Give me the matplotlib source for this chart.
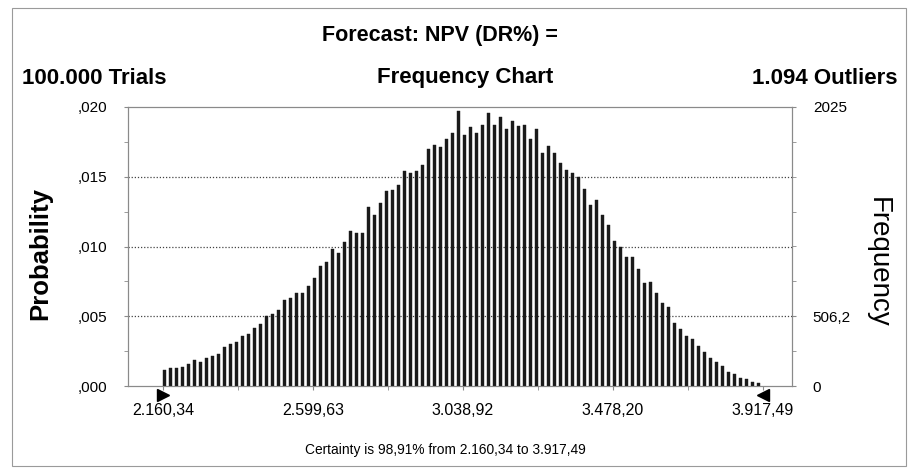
import matplotlib
matplotlib.use("Agg")
import matplotlib.pyplot as plt
import matplotlib.transforms as mtransforms
from matplotlib.patches import Rectangle
import numpy as np

# ---- data ----
range_min = 2160.34
range_max = 3917.49
n_trials = 100000
axis_max_freq = 2025
frequencies = [
    116, 133, 128, 140, 157, 188, 172, 201, 217, 230,
    285, 302, 317, 362, 375, 418, 449, 510, 522, 551,
    623, 640, 672, 672, 725, 781, 872, 901, 991, 962,
    1046, 1124, 1112, 1112, 1300, 1240, 1329, 1416, 1426, 1457,
    1561, 1547, 1559, 1607, 1723, 1752, 1735, 1795, 1839, 1996,
    1822, 1880, 1839, 1897, 1982, 1897, 1953, 1863, 1924, 1885,
    1897, 1795, 1868, 1694, 1740, 1694, 1621, 1566, 1549, 1518,
    1433, 1317, 1348, 1240, 1167, 1054, 1010, 938, 938, 846,
    744, 756, 672, 599, 570, 454, 411, 362, 338, 290,
    249, 205, 172, 145, 104, 87, 60, 51, 31, 19,
]
x_tick_values = [2160.34, 2599.63, 3038.92, 3478.20, 3917.49]
x_tick_labels = ["2.160,34", "2.599,63", "3.038,92", "3.478,20", "3.917,49"]
left_tick_labels = [",000", ",005", ",010", ",015", ",020"]
right_tick_values = [0, 506.25, 2025]
right_tick_labels = ["0", "506,2", "2025"]
title = "Forecast: NPV (DR%) ="
left_header = "100.000 Trials"
center_header = "Frequency Chart"
right_header = "1.094 Outliers"
certainty_text = "Certainty is 98,91% from 2.160,34 to 3.917,49"

# ---- figure ----
sans = ["Liberation Sans", "DejaVu Sans"]

fig = plt.figure(figsize=(9.09, 4.68), dpi=100)
fig.patch.set_facecolor("white")

# outer frame
fig.add_artist(Rectangle((12 / 909, 1 - 466 / 468), (906 - 12) / 909, (466 - 8) / 468,
                         transform=fig.transFigure, fill=False, edgecolor="#9a9a9a", lw=0.8))

ax = fig.add_axes([128 / 909, 1 - 386 / 468, (792 - 128) / 909, (386 - 107) / 468])

n_bins = len(frequencies)
bin_w = (range_max - range_min) / n_bins
centers = range_min + (np.arange(n_bins) + 0.25) * bin_w
ax.bar(centers, frequencies, width=bin_w * 0.52, color="#1a1a1a", edgecolor="#1a1a1a",
       linewidth=0.3, zorder=3)

ax.set_xlim(2057.8, 4002.4)
ax.set_ylim(0, axis_max_freq)

# grid lines at quarters
for q in (0.25, 0.5, 0.75):
    ax.axhline(axis_max_freq * q, color="#444444", lw=0.9, ls=(0, (1, 1.5)), zorder=1)

for s in ax.spines.values():
    s.set_color("#8a8a8a")
    s.set_linewidth(0.8)

left_vals = [axis_max_freq * k / 4 for k in range(5)]
ax.set_yticks(left_vals)
ax.set_yticklabels(left_tick_labels, fontfamily=sans, fontsize=11)
ax.set_yticks([axis_max_freq * k / 8 for k in range(1, 8, 2)], minor=True)
ax.tick_params(axis="y", which="both", length=3, color="#8a8a8a", pad=12)

ax.set_xticks(x_tick_values)
ax.set_xticklabels(x_tick_labels, fontfamily=sans, fontsize=11.5)
minor_x = [(a + b) / 2 for a, b in zip(x_tick_values[:-1], x_tick_values[1:])]
ax.set_xticks(minor_x, minor=True)
ax.tick_params(axis="x", which="both", length=3, color="#8a8a8a", pad=9)

ax2 = ax.twinx()
ax2.set_ylim(0, axis_max_freq)
ax2.set_yticks(right_tick_values)
ax2.set_yticklabels(right_tick_labels, fontfamily=sans, fontsize=11)
ax2.set_yticks([axis_max_freq * k / 8 for k in range(1, 8)], minor=True)
ax2.tick_params(axis="y", which="both", length=3, color="#8a8a8a", pad=12)
for s in ax2.spines.values():
    s.set_color("#8a8a8a")
    s.set_linewidth(0.8)

# certainty range arrows
trans = mtransforms.blended_transform_factory(ax.transData, ax.transAxes)
ax.plot([range_min], [-0.032], marker=">", markersize=8, color="black",
        transform=trans, clip_on=False, zorder=5)
ax.plot([range_max], [-0.032], marker="<", markersize=8, color="black",
        transform=trans, clip_on=False, zorder=5)

# texts
fig.text(440 / 909, 1 - 35 / 468, title, ha="center", va="center",
         fontfamily=sans, fontsize=15.5, fontweight="bold")
fig.text(22 / 909, 1 - 78 / 468, left_header, ha="left", va="center",
         fontfamily=sans, fontsize=16, fontweight="bold")
fig.text(465 / 909, 1 - 78 / 468, center_header, ha="center", va="center",
         fontfamily=sans, fontsize=16, fontweight="bold")
fig.text(897 / 909, 1 - 78 / 468, right_header, ha="right", va="center",
         fontfamily=sans, fontsize=16, fontweight="bold")
fig.text(40 / 909, 1 - 254 / 468, "Probability", ha="center", va="center", rotation=90,
         fontfamily=sans, fontsize=18.5, fontweight="bold")
fig.text(878 / 909, 1 - 262 / 468, "Frequency", ha="center", va="center", rotation=270,
         fontfamily=sans, fontsize=20)
fig.text(445 / 909, 1 - 450 / 468, certainty_text, ha="center", va="center",
         fontfamily=sans, fontsize=9.9)

fig.savefig("out.png", dpi=100, facecolor="white")
